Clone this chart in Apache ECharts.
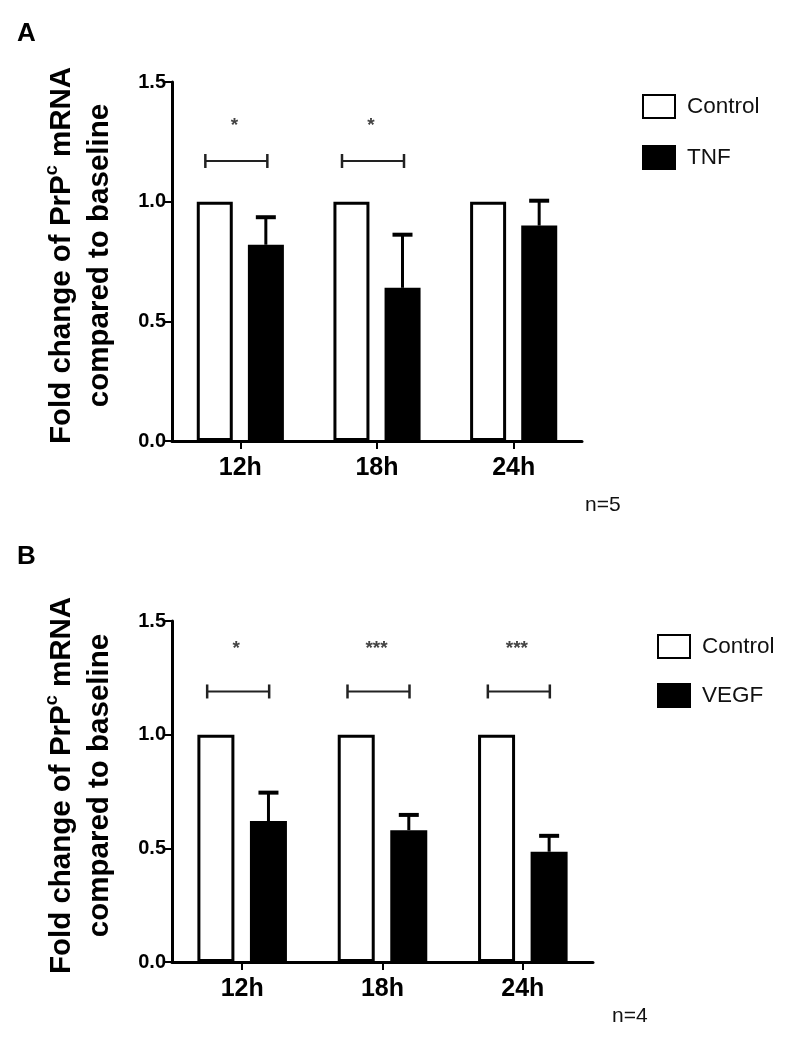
<!DOCTYPE html>
<html>
<head>
<meta charset="utf-8">
<script src="https://cdn.jsdelivr.net/npm/echarts@6/dist/echarts.min.js"></script>
<style>
html,body{margin:0;padding:0;background:#fff;}
#chart{width:798px;height:1050px;}
</style>
</head>
<body>
<div id="chart"></div>
<script>
// ---- data ----
const categories = ['12h', '18h', '24h'];
const yTickValues = [0, 0.5, 1.0, 1.5];
// Panel A
const controlA = [1.0, 1.0, 1.0];
const tnfMean = [0.82, 0.64, 0.90];
const tnfErr = [0.115, 0.222, 0.104];
const sigA = ['*', '*', ''];
const bracketA = [1.17, 1.17, null];
const starA = [1.325, 1.325, null];
// Panel B
const controlB = [1.0, 1.0, 1.0];
const vegfMean = [0.62, 0.58, 0.485];
const vegfErr = [0.125, 0.067, 0.07];
const sigB = ['*', '***', '***'];
const bracketB = [1.19, 1.19, 1.19];
const starB = [1.385, 1.385, 1.385];

const FONT = '"Liberation Sans", Arial, sans-serif';

const chart = echarts.init(document.getElementById('chart'), null, {renderer: 'canvas'});

function errRender(offsetPx) {
  return function (params, api) {
    const i = api.value(0), m = api.value(1), e = api.value(2);
    const base = api.coord([i, m]);
    const top = api.coord([i, m + e]);
    const x = base[0] + offsetPx;
    const cap = 10;
    return {
      type: 'group',
      children: [
        {type: 'line', shape: {x1: x, y1: base[1], x2: x, y2: top[1]}, style: {stroke: '#000', lineWidth: 3}},
        {type: 'line', shape: {x1: x - cap, y1: top[1], x2: x + cap, y2: top[1]}, style: {stroke: '#000', lineWidth: 4}}
      ]
    };
  };
}

function bracketRender(sig, dxPx) {
  return function (params, api) {
    const i = api.value(0), yb = api.value(1), ys = api.value(2);
    const p = api.coord([i, yb]);
    const ps = api.coord([i, ys]);
    const cx = p[0] + dxPx;
    const hw = 31, th = 7;
    return {
      type: 'group',
      children: [
        {type: 'line', shape: {x1: cx - hw, y1: p[1], x2: cx + hw, y2: p[1]}, style: {stroke: '#222', lineWidth: 2}},
        {type: 'line', shape: {x1: cx - hw, y1: p[1] - th, x2: cx - hw, y2: p[1] + th}, style: {stroke: '#222', lineWidth: 2.5}},
        {type: 'line', shape: {x1: cx + hw, y1: p[1] - th, x2: cx + hw, y2: p[1] + th}, style: {stroke: '#222', lineWidth: 2.5}},
        {type: 'text', x: cx - 2, y: ps[1] + 2, style: {text: sig[params.dataIndex], fill: '#444', font: 'bold 19px ' + FONT, textAlign: 'center', textVerticalAlign: 'middle'}}
      ]
    };
  };
}

function yAxisCfg(gridIndex) {
  return {
    type: 'value', gridIndex: gridIndex, min: 0, max: 1.5, interval: 0.5,
    splitLine: {show: false},
    axisLine: {show: true, lineStyle: {color: '#000', width: 3}},
    axisTick: {show: true, length: 7, lineStyle: {color: '#000', width: 2}},
    axisLabel: {color: '#000', fontFamily: FONT, fontWeight: 'bold', fontSize: 20, margin: 6,
      formatter: v => yTickValues.indexOf(v) >= 0 ? v.toFixed(1) : ''},
    name: '{a|Fold change of PrP}{s|c}{a| mRNA}\n{a|compared to baseline}',
    nameLocation: 'middle', nameRotate: 90, nameGap: 53,
    nameTextStyle: {
      padding: [0, 0, 0, 12],
      rich: {
        a: {fontFamily: FONT, fontWeight: 'bold', fontSize: 29.5, lineHeight: 38, color: '#000'},
        s: {fontFamily: FONT, fontWeight: 'bold', fontSize: 18, lineHeight: 26, verticalAlign: 'top', color: '#000'}
      }
    }
  };
}

function xAxisCfg(gridIndex) {
  return {
    type: 'category', gridIndex: gridIndex, data: categories,
    axisLine: {show: true, lineStyle: {color: '#000', width: 3}},
    axisTick: {show: true, alignWithLabel: true, length: 8, lineStyle: {color: '#000', width: 2}},
    axisLabel: {color: '#000', fontFamily: FONT, fontWeight: 'bold', fontSize: 25, margin: 15}
  };
}

const offA = 25.5, offB = 26.3;

const legendText = {fontFamily: FONT, fontSize: 22.5, lineHeight: 24, color: '#111', padding: [0, 0, 0, 7]};

const option = {
  backgroundColor: '#fff',
  animation: false,
  grid: [
    {left: 172, top: 82, width: 410, height: 359},
    {left: 172, top: 621, width: 421, height: 341}
  ],
  xAxis: [xAxisCfg(0), xAxisCfg(1)],
  yAxis: [yAxisCfg(0), yAxisCfg(1)],
  legend: [
    {orient: 'vertical', left: 637, top: 89, icon: 'rect', itemWidth: 32, itemHeight: 23, itemGap: 26,
      data: ['Control', 'TNF'], textStyle: legendText},
    {orient: 'vertical', left: 652, top: 629, icon: 'rect', itemWidth: 32, itemHeight: 23, itemGap: 24,
      data: ['Control', 'VEGF'], textStyle: legendText}
  ],
  series: [
    {name: 'Control', type: 'bar', xAxisIndex: 0, yAxisIndex: 0, data: controlA,
      barWidth: 36, barGap: '42%',
      itemStyle: {color: '#fff', borderColor: '#000', borderWidth: 3}},
    {name: 'TNF', type: 'bar', xAxisIndex: 0, yAxisIndex: 0, data: tnfMean,
      barWidth: 36, barGap: '42%',
      itemStyle: {color: '#000', borderColor: '#000', borderWidth: 3}},
    {name: 'Control', type: 'bar', xAxisIndex: 1, yAxisIndex: 1, data: controlB,
      barWidth: 37, barGap: '42%',
      itemStyle: {color: '#fff', borderColor: '#000', borderWidth: 3}},
    {name: 'VEGF', type: 'bar', xAxisIndex: 1, yAxisIndex: 1, data: vegfMean,
      barWidth: 37, barGap: '42%',
      itemStyle: {color: '#000', borderColor: '#000', borderWidth: 3}},
    {type: 'custom', xAxisIndex: 0, yAxisIndex: 0, renderItem: errRender(offA), z: 5,
      data: categories.map((c, i) => [i, tnfMean[i], tnfErr[i]])},
    {type: 'custom', xAxisIndex: 1, yAxisIndex: 1, renderItem: errRender(offB), z: 5,
      data: categories.map((c, i) => [i, vegfMean[i], vegfErr[i]])},
    {type: 'custom', xAxisIndex: 0, yAxisIndex: 0, renderItem: bracketRender(sigA, -4), z: 5,
      data: categories.map((c, i) => [i, bracketA[i], starA[i]]).filter(d => d[1] !== null)},
    {type: 'custom', xAxisIndex: 1, yAxisIndex: 1, renderItem: bracketRender(sigB, -4), z: 5,
      data: categories.map((c, i) => [i, bracketB[i], starB[i]]).filter(d => d[1] !== null)}
  ],
  graphic: [
    {type: 'text', left: 17, top: 21, style: {text: 'A', font: 'bold 26px ' + FONT, fill: '#000'}},
    {type: 'text', left: 17, top: 544, style: {text: 'B', font: 'bold 26px ' + FONT, fill: '#000'}},
    {type: 'text', left: 585, top: 495, style: {text: 'n=5', font: '21px ' + FONT, fill: '#111'}},
    {type: 'text', left: 612, top: 1006, style: {text: 'n=4', font: '21px ' + FONT, fill: '#111'}}
  ]
};
chart.setOption(option);
</script>
</body>
</html>
